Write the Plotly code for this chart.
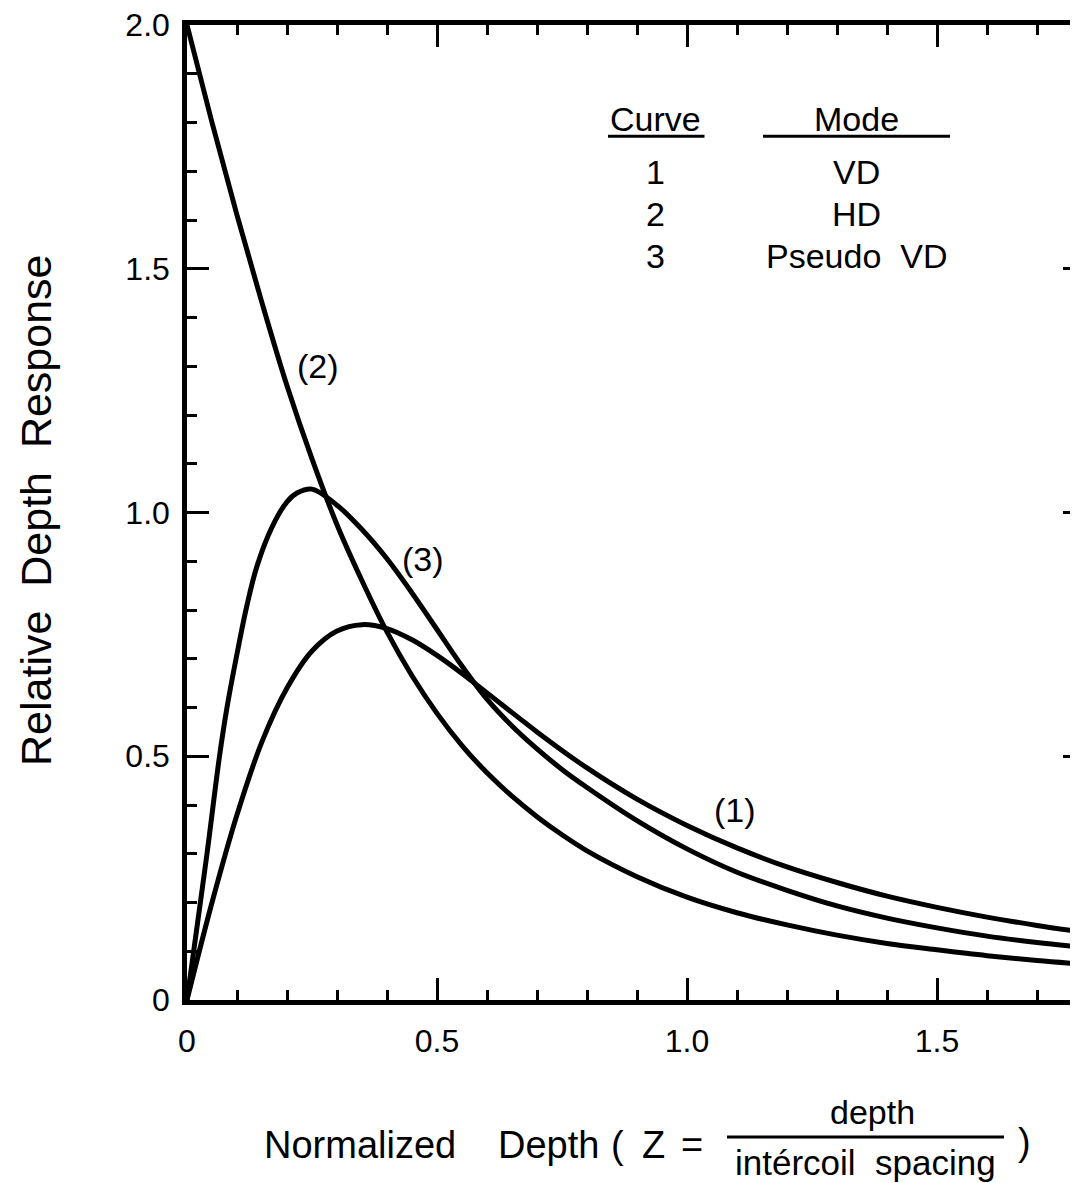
import plotly.graph_objects as go

# ---- data ----
z_vd = [0, 0.05, 0.1, 0.15, 0.2, 0.25, 0.3, 0.35, 0.4, 0.45, 0.5, 0.55, 0.6, 0.7, 0.8, 0.9, 1.0,
        1.1, 1.2, 1.3, 1.4, 1.5, 1.6, 1.7, 1.8]
vd = [0, 0.20, 0.38, 0.53, 0.64, 0.716, 0.757, 0.77, 0.762, 0.739, 0.707, 0.67, 0.63, 0.55, 0.476, 0.412, 0.358,
      0.312, 0.273, 0.241, 0.213, 0.19, 0.17, 0.153, 0.138]

z_hd = [0, 0.05, 0.1, 0.15, 0.2, 0.25, 0.3, 0.35, 0.4, 0.45, 0.5, 0.55, 0.6, 0.65, 0.7, 0.75, 0.8, 0.9, 1.0,
        1.1, 1.2, 1.3, 1.4, 1.5, 1.6, 1.7, 1.8]
hd = [2.0, 1.80, 1.61, 1.43, 1.26, 1.11, 0.975, 0.86, 0.755, 0.665, 0.588, 0.522, 0.466, 0.418, 0.376, 0.339,
      0.306, 0.253, 0.211, 0.179, 0.154, 0.133, 0.116, 0.103, 0.091, 0.081, 0.073]

z_pvd = [0, 0.02, 0.04, 0.065, 0.08, 0.1, 0.12, 0.14, 0.17, 0.2, 0.22, 0.25, 0.3, 0.35, 0.4, 0.45, 0.5, 0.55,
         0.6, 0.65, 0.7, 0.75, 0.8, 0.9, 1.0, 1.1, 1.2, 1.3, 1.4, 1.5, 1.6, 1.7, 1.8]
pvd = [0, 0.15, 0.30, 0.50, 0.60, 0.71, 0.81, 0.89, 0.97, 1.022, 1.04, 1.048, 1.015, 0.965, 0.905, 0.835, 0.76, 0.685,
       0.617, 0.562, 0.515, 0.473, 0.436, 0.368, 0.31, 0.262, 0.225, 0.193, 0.168, 0.148, 0.131, 0.118, 0.107]

x_tickvals = [0, 0.5, 1.0, 1.5]
x_ticktext = ["0", "0.5", "1.0", "1.5"]
y_tickvals = [0, 0.5, 1.0, 1.5, 2.0]
y_ticktext = ["0", "0.5", "1.0", "1.5", "2.0"]

curve_labels = ["(1)", "(2)", "(3)"]
label_pos = [(1.096, 0.39), (0.262, 1.30), (0.472, 0.905)]

table_nums = ["1", "2", "3"]
table_modes = ["VD", "HD", "Pseudo\u00a0\u00a0VD"]

FONT = "Liberation Sans, Arial, Helvetica, sans-serif"
NB = "\u00a0"

fig = go.Figure()
line = dict(color="black", width=5, shape="spline", smoothing=1.0)
fig.add_trace(go.Scatter(x=z_vd, y=vd, mode="lines", line=line, hoverinfo="skip"))
fig.add_trace(go.Scatter(x=z_hd, y=hd, mode="lines", line=line, hoverinfo="skip"))
fig.add_trace(go.Scatter(x=z_pvd, y=pvd, mode="lines", line=line, hoverinfo="skip"))
# invisible trace to carry the right-hand tick axis
fig.add_trace(go.Scatter(x=z_vd, y=vd, mode="lines", line=dict(width=0, color="rgba(0,0,0,0)"),
                         yaxis="y2", hoverinfo="skip"))

tickfont = dict(family=FONT, size=32, color="black")

# the page body has an 8px margin: plot area sits at page (187..1078, 25..1000)
fig.update_layout(
    width=1070, height=1175,
    margin=dict(l=179, r=0, t=17, b=183),
    paper_bgcolor="white", plot_bgcolor="white",
    showlegend=False,
    xaxis=dict(range=[0, 1.782], showgrid=False, zeroline=False,
               showline=True, linecolor="black", linewidth=4.5, mirror="ticks",
               ticks="inside", ticklen=22, tickwidth=3, tickcolor="black",
               tickvals=x_tickvals, ticktext=x_ticktext, tickfont=tickfont,
               ticklabelstandoff=9, ticklabeloverflow="allow",
               minor=dict(tickmode="linear", tick0=0, dtick=0.1, ticks="inside",
                          ticklen=10, tickwidth=3, tickcolor="black")),
    yaxis=dict(range=[0, 2.0], showgrid=False, zeroline=False,
               showline=True, linecolor="black", linewidth=4.5, mirror=False,
               ticks="inside", ticklen=22, tickwidth=3, tickcolor="black",
               tickvals=y_tickvals, ticktext=y_ticktext, tickfont=tickfont,
               ticklabelstandoff=6, ticklabeloverflow="allow",
               minor=dict(tickmode="linear", tick0=0, dtick=0.1, ticks="inside",
                          ticklen=10, tickwidth=3, tickcolor="black")),
    yaxis2=dict(range=[0, 2.0], overlaying="y", side="right", showgrid=False, zeroline=False,
                showline=False, showticklabels=False,
                ticks="inside", ticklen=15, tickwidth=3, tickcolor="black",
                tickvals=y_tickvals,
                minor=dict(tickmode="linear", tick0=0, dtick=0.1, ticks="inside",
                           ticklen=4, tickwidth=3, tickcolor="black")),
)

# curve labels
for txt, (lx, ly) in zip(curve_labels, label_pos):
    fig.add_annotation(x=lx, y=ly, xref="x", yref="y", text=txt, showarrow=False,
                       xanchor="center", yanchor="middle",
                       font=dict(family=FONT, size=34, color="black"))

# table
hdr_y = 1.807
row_ys = [1.698, 1.613, 1.527]
col_curve = 0.936
col_mode = 1.338
tfont = dict(family=FONT, size=34, color="black")
fig.add_annotation(x=col_curve, y=hdr_y, text="Curve", showarrow=False, font=tfont,
                   xanchor="center", yanchor="middle")
fig.add_annotation(x=col_mode, y=hdr_y, text="Mode", showarrow=False, font=tfont,
                   xanchor="center", yanchor="middle")
fig.add_shape(type="line", xref="x", yref="y", x0=0.842, x1=1.035, y0=1.772, y1=1.772,
              line=dict(color="black", width=3))
fig.add_shape(type="line", xref="x", yref="y", x0=1.152, x1=1.526, y0=1.772, y1=1.772,
              line=dict(color="black", width=3))
for n, m, ry in zip(table_nums, table_modes, row_ys):
    fig.add_annotation(x=col_curve, y=ry, text=n, showarrow=False, font=tfont,
                       xanchor="center", yanchor="middle")
    fig.add_annotation(x=col_mode, y=ry, text=m, showarrow=False, font=tfont,
                       xanchor="center", yanchor="middle")

# axis titles (positions given in page pixels, converted to paper coordinates)
W = 891.0
H = 975.0
def px(xp):
    return (xp - 187) / W
def py(yp):
    return (1000 - yp) / H

def note(text, xp, yp, size, angle=0):
    fig.add_annotation(x=px(xp), y=py(yp), xref="paper", yref="paper", text=text,
                       textangle=angle, showarrow=False, xanchor="center", yanchor="middle",
                       font=dict(family=FONT, size=size, color="black"))

note(f"Relative{NB}{NB}Depth{NB}{NB}Response", 36, 510, 43, angle=-90)

note("Normalized", 360, 1145, 38)
note("Depth", 548, 1145, 38)
note("(", 617, 1145, 38)
note("Z", 653, 1145, 38)
note("=", 692, 1145, 38)
note("depth", 872, 1112, 34)
note(f"intércoil{NB}{NB}spacing", 865, 1162, 35)
fig.add_shape(type="line", xref="paper", yref="paper", x0=px(727), x1=px(1004),
              y0=py(1137), y1=py(1137), line=dict(color="black", width=3))
note(")", 1024, 1142, 38)

fig.write_html("out.html")
